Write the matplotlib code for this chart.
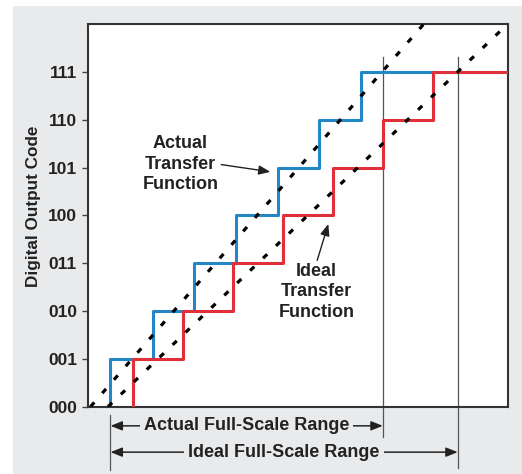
import numpy as np
import matplotlib
matplotlib.use("Agg")
import matplotlib.pyplot as plt
from matplotlib.patches import Rectangle

plt.rcParams["font.family"] = ["Liberation Sans", "DejaVu Sans"]
plt.rcParams["font.weight"] = "bold"

# output codes and their labels
codes = [0, 1, 2, 3, 4, 5, 6, 7]
code_labels = ["000", "001", "010", "011", "100", "101", "110", "111"]

# transition points (analog input, in ideal LSB units)
ideal_steps = [0.5, 1.5, 2.5, 3.5, 4.5, 5.5, 6.5]
actual_steps = [0.05, 0.9, 1.72, 2.56, 3.4, 4.23, 5.07]

# straight-line transfer functions (input, code)
ideal_line_x = [0.0, 8.0]
ideal_line_y = [0.0, 8.0]
actual_line_x = [-0.35, 6.32]
actual_line_y = [0.0, 8.0]

# full-scale range markers
fs_start = 0.05
actual_fs_end = 5.5
ideal_fs_end = 7.0

BG = "#e9eaec"
TXT = "#222222"
BLUE = "#2386c6"
RED = "#e2303a"

fig = plt.figure(figsize=(5.22, 4.74), dpi=100, facecolor="white")
fig.patches.append(Rectangle((13 / 522, 0), 1 - 13 / 522, 1 - 6 / 474,
                             transform=fig.transFigure, facecolor=BG,
                             edgecolor="none", zorder=-10))
ax = fig.add_axes([88 / 522, 1 - 406.7 / 474, (507.7 - 88) / 522, (406.7 - 24) / 474])
ax.set_facecolor("white")
ax.set_xlim(-0.4, 8.0)
ax.set_ylim(0, 8)

xmax = ax.get_xlim()[1]
dash = (0, (1.8, 3.8))

ax.plot(actual_line_x, actual_line_y, color="black", lw=2.3, linestyle=dash, zorder=4)
ax.plot(ideal_line_x, ideal_line_y, color="black", lw=2.3, linestyle=dash, zorder=4)

bx = [actual_steps[0]] + actual_steps + [xmax]
rx = [ideal_steps[0]] + ideal_steps + [xmax]
ax.step(bx, codes + [7], where="post", color=BLUE, lw=2.2, zorder=2)
ax.step(rx, codes + [7], where="post", color=RED, lw=2.2, zorder=3)

ax.set_yticks(codes)
ax.set_yticklabels(code_labels)
ax.set_xticks([])
ax.tick_params(axis="y", length=4, width=1, color="#444444", pad=4,
               labelsize=12.5, labelcolor=TXT)
for s in ax.spines.values():
    s.set_color("#333333")
    s.set_linewidth(1.5)
ax.set_ylabel("Digital Output Code", fontsize=12.3, fontweight="bold", color=TXT)
ax.yaxis.set_label_coords(-0.112, 0.523)

# vertical full-scale guides
ax.plot([actual_fs_end, actual_fs_end], [7.32, -0.63], color="#555555", lw=0.9,
        clip_on=False, zorder=1)
ax.plot([ideal_fs_end, ideal_fs_end], [7.32, -1.28], color="#555555", lw=0.9,
        clip_on=False, zorder=1)
ax.plot([fs_start, fs_start], [-0.17, -1.32], color="#555555", lw=0.9,
        clip_on=False, zorder=1)

arrow_kw = dict(arrowstyle="<|-|>,head_length=0.7,head_width=0.28", color=TXT,
                lw=1.1, shrinkA=0, shrinkB=0, mutation_scale=10)
for end, y, label in [(actual_fs_end, -0.40, "Actual Full-Scale Range"),
                      (ideal_fs_end, -0.95, "Ideal Full-Scale Range")]:
    ax.annotate("", xy=(end, y), xytext=(fs_start, y), arrowprops=arrow_kw,
                annotation_clip=False)
    ax.text((fs_start + end) / 2, y, label, ha="center", va="center",
            fontsize=13, fontweight="bold", color=TXT, clip_on=False,
            bbox=dict(facecolor=BG, edgecolor="none", pad=3))

ax.annotate("Actual\nTransfer\nFunction", xy=(3.25, 4.91), xytext=(1.45, 5.07),
            ha="center", va="center", fontsize=13, fontweight="bold", color=TXT,
            linespacing=1.25,
            arrowprops=dict(arrowstyle="-|>,head_length=0.7,head_width=0.28",
                            color=TXT, lw=1.0, shrinkA=0, shrinkB=0,
                            mutation_scale=10, relpos=(1.0, 0.5)))
ax.annotate("Ideal\nTransfer\nFunction", xy=(4.41, 3.82), xytext=(4.17, 2.40),
            ha="center", va="center", fontsize=13, fontweight="bold", color=TXT,
            linespacing=1.25,
            arrowprops=dict(arrowstyle="-|>,head_length=0.7,head_width=0.28",
                            color=TXT, lw=1.0, shrinkA=0, shrinkB=0,
                            mutation_scale=10, relpos=(0.5, 1.0)))

fig.savefig("out.png", dpi=100, facecolor="white")
